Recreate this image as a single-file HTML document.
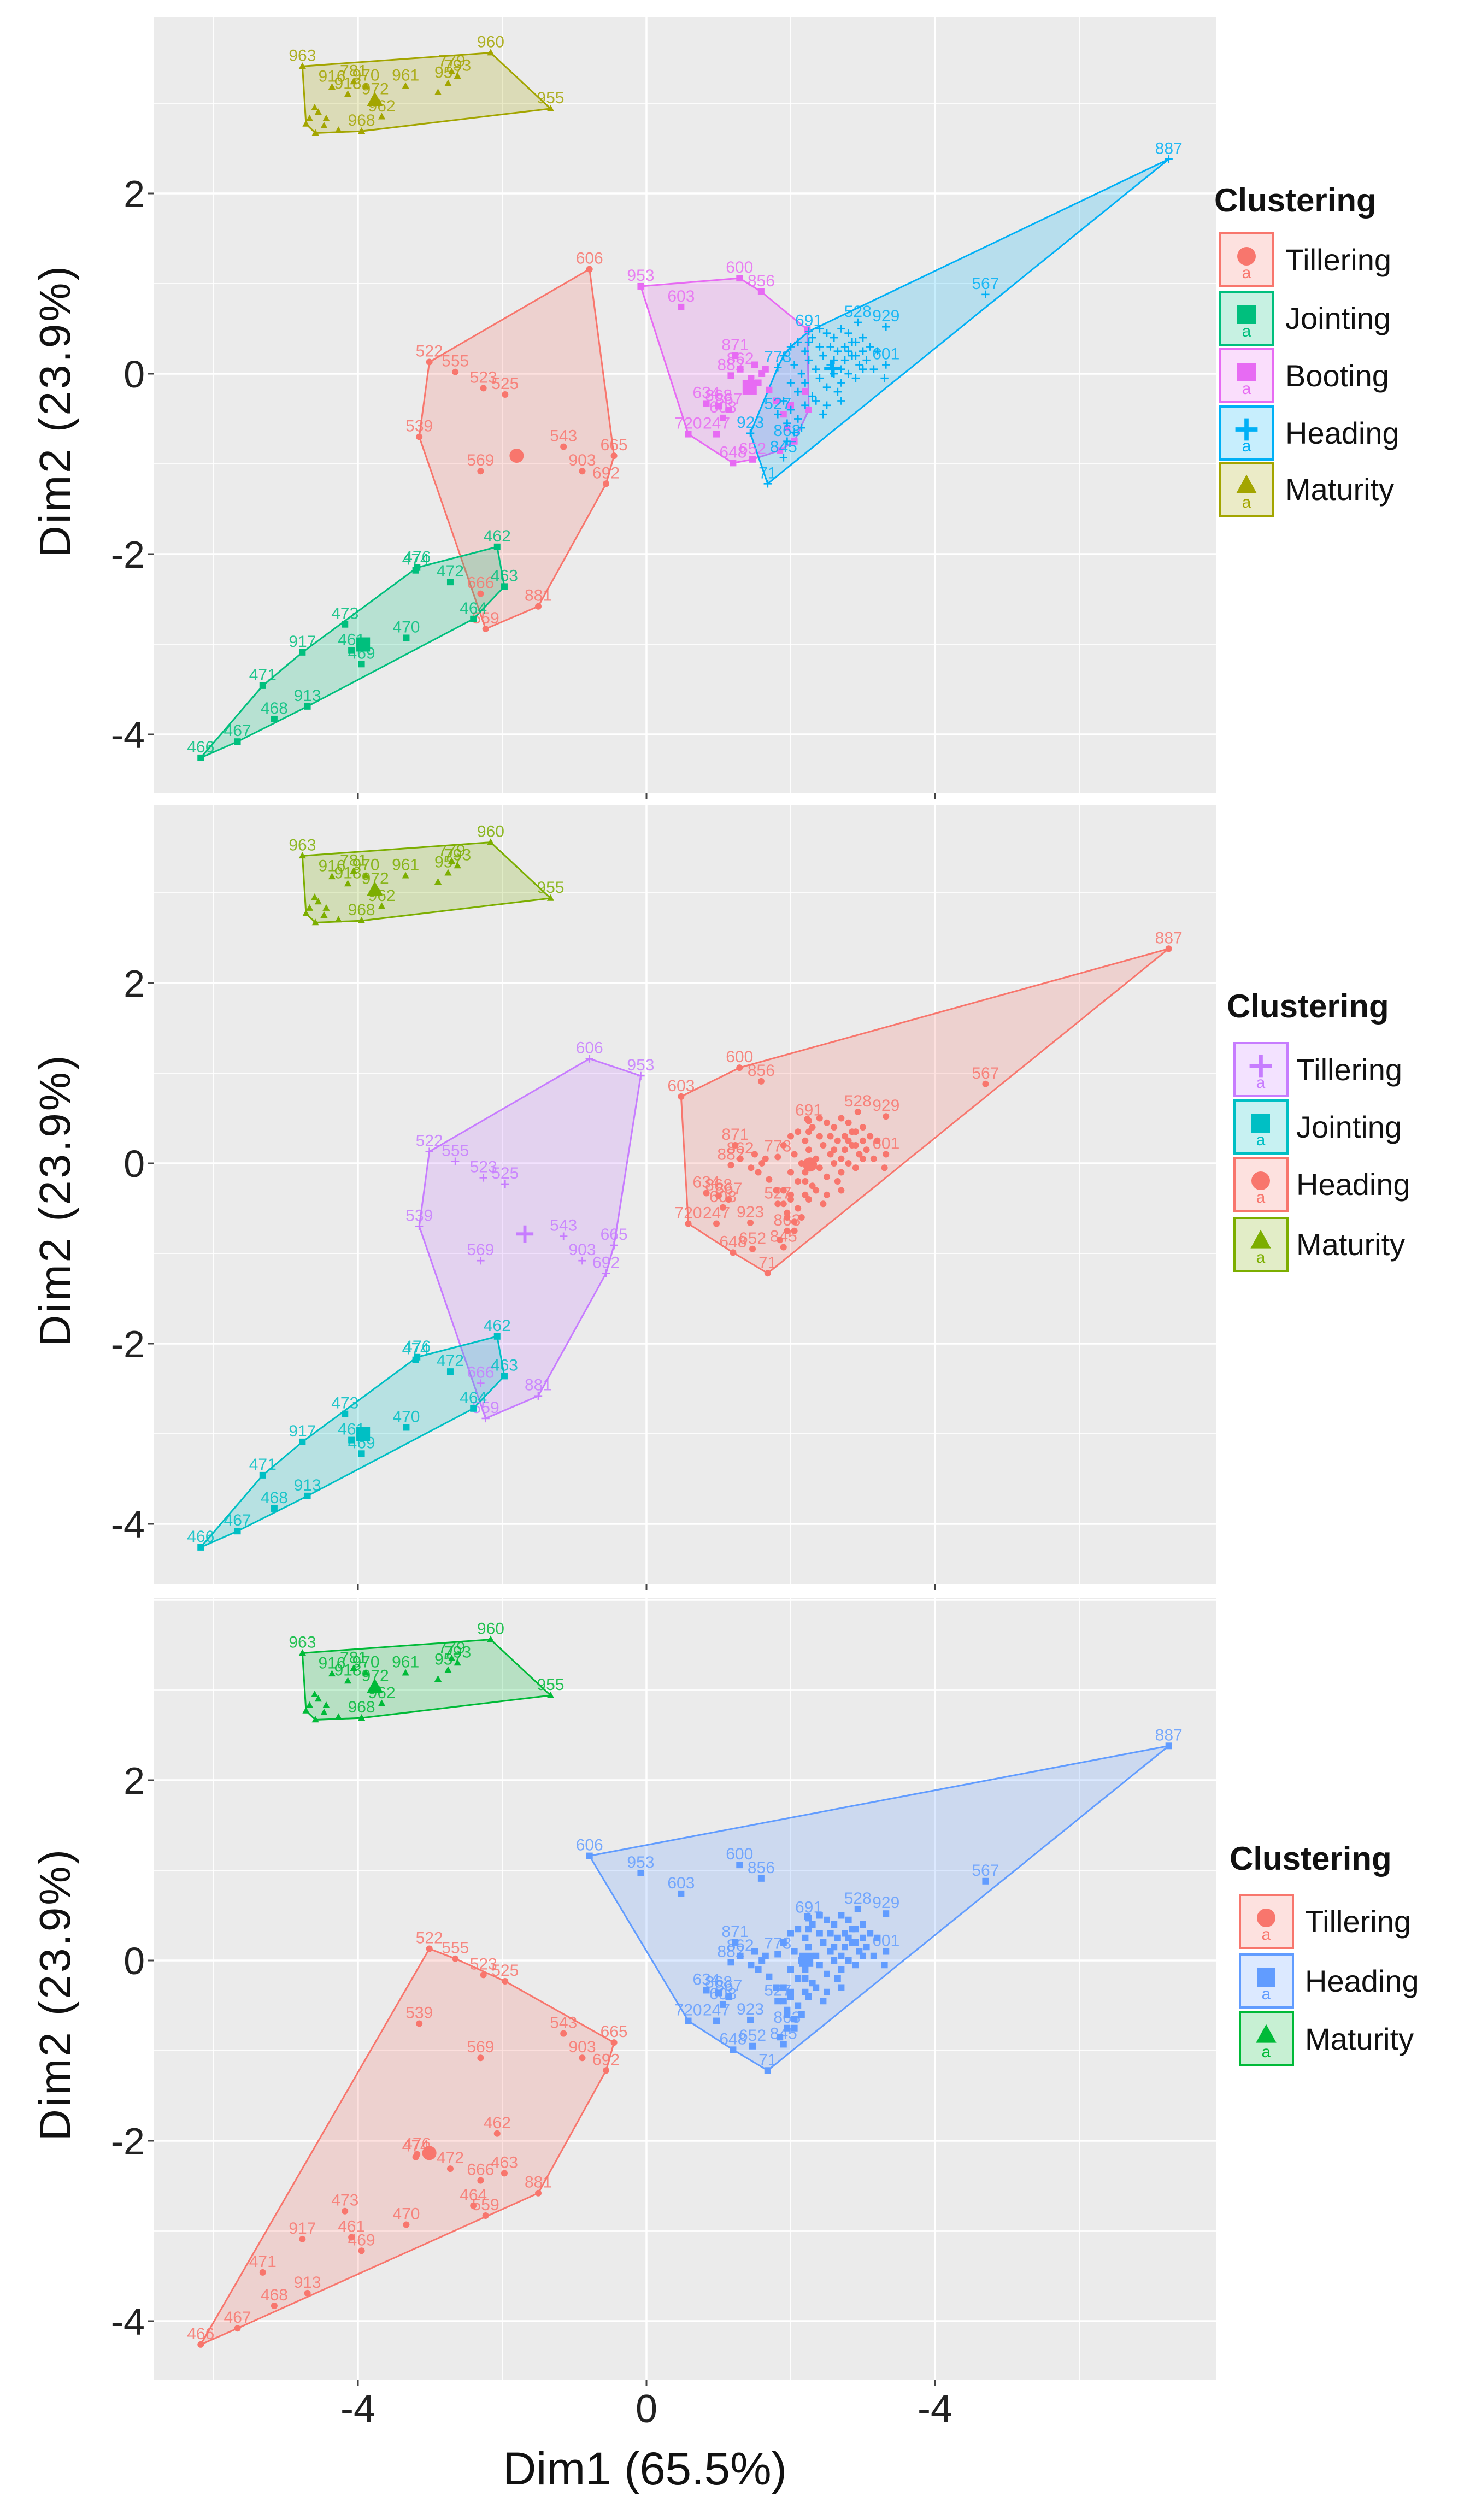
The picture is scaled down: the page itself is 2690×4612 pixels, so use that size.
<!DOCTYPE html>
<html><head><meta charset="utf-8"><title>Cluster plots</title>
<style>
html,body{margin:0;padding:0;background:#fff;}
svg{display:block;font-family:"Liberation Sans",sans-serif;}
</style></head>
<body>
<svg id="chart" width="2690" height="4612" viewBox="0 0 2690 4612" xmlns="http://www.w3.org/2000/svg"></svg>
<script>
// ---- data (Dim1, Dim2, point label, stage in panel 1) ----
const tillLabels = ["606","522","555","523","525","539","569","543","665","903","692","881","559","666"];
const tillX = [-0.79,-3.01,-2.65,-2.26,-1.96,-3.15,-2.30,-1.15,-0.45,-0.89,-0.56,-1.50,-2.23,-2.30];
const tillY = [1.16,0.13,0.02,-0.16,-0.23,-0.70,-1.08,-0.81,-0.91,-1.08,-1.22,-2.58,-2.83,-2.44];

const jointLabels = ["462","474","476","472","463","464","473","470","461","469","917","471","913","468","467","466"];
const jointX = [-2.07,-3.20,-3.18,-2.72,-1.97,-2.40,-4.18,-3.33,-4.09,-3.95,-4.77,-5.32,-4.70,-5.16,-5.67,-6.18];
const jointY = [-1.92,-2.18,-2.15,-2.31,-2.36,-2.72,-2.78,-2.93,-3.07,-3.22,-3.09,-3.46,-3.69,-3.83,-4.08,-4.26];

const bootLabels = ["953","600","856","603","871","862","882","634","868","867","720","247","648","652","608","","","","","","","","","","","","","","",""];
const bootX = [-0.08,1.29,1.59,0.48,1.23,1.30,1.17,0.83,1.00,1.14,0.58,0.97,1.20,1.47,1.06,1.50,1.60,1.55,1.70,1.65,1.45,1.80,2.00,1.95,2.05,1.85,2.20,1.90,2.23,2.25];
const bootY = [0.97,1.06,0.91,0.74,0.20,0.05,-0.02,-0.33,-0.36,-0.40,-0.67,-0.67,-0.99,-0.95,-0.49,0.10,0.00,-0.10,-0.18,0.05,-0.05,-0.30,-0.35,-0.60,-0.75,-0.85,-0.20,-0.45,0.49,-0.40];

const headLabels = ["887","567","929","601","71","923","691","528","863","845","527","773","","","","","","","","","","","","","","","","","","","","","","","","","","","","","","","","","","","","","","","","","","","","","","","","","","","","","","","","","",""];
const headX = [7.24,4.70,3.32,3.32,1.68,1.44,2.25,2.93,1.95,1.90,1.82,1.82,2.0,2.1,2.2,2.3,2.4,2.5,2.6,2.7,2.8,2.9,3.0,3.1,3.2,2.05,2.15,2.25,2.35,2.45,2.55,2.65,2.75,2.85,2.95,3.05,3.15,2.0,2.1,2.2,2.3,2.4,2.5,2.6,2.7,2.8,2.9,3.0,1.9,2.0,2.1,2.2,2.35,2.5,2.65,2.75,2.85,2.6,2.7,2.8,2.9,3.0,1.95,2.05,2.15,1.9,2.4,2.55,2.45,3.3,2.7,2.25];
const headY = [2.38,0.88,0.52,0.10,-1.22,-0.66,0.47,0.57,-0.75,-0.93,-0.45,0.07,0.30,0.35,0.25,0.40,0.30,0.45,0.40,0.50,0.45,0.35,0.40,0.30,0.25,0.10,0.00,0.15,0.05,0.20,0.10,0.25,0.15,0.20,0.10,0.15,0.05,-0.10,-0.20,-0.10,-0.25,-0.05,-0.15,0.00,-0.10,0.00,-0.05,0.05,-0.30,-0.40,-0.50,-0.35,-0.30,-0.35,-0.20,0.30,0.35,0.15,0.05,0.25,0.20,0.25,-0.55,-0.65,-0.60,0.20,0.50,0.30,-0.45,-0.05,-0.30,0.35];

const matLabels = ["963","960","955","968","","","","962","961","","957","793","779","918","972","","","","","916","781","970","",""];
const matX = [-4.77,-2.16,-1.33,-3.95,-4.27,-4.59,-4.47,-3.67,-3.34,-2.89,-2.75,-2.62,-2.70,-4.14,-3.76,-3.71,-4.44,-4.67,-4.72,-4.36,-4.06,-3.89,-4.60,-4.55];
const matY = [3.41,3.56,2.94,2.69,2.70,2.67,2.75,2.85,3.19,3.12,3.22,3.30,3.35,3.10,3.04,3.01,2.83,2.83,2.77,3.18,3.24,3.19,2.95,2.90];

// panel cluster overrides: label -> cluster name in that panel
const panel2Overrides = {"953":"Tillering"};
const panel3Overrides = {"606":"Heading"};

const xTickValues = [-4,0,4];
const xTickLabels = ["-4","0","-4"];
const yTickValues = [2,0,-2,-4];
const yTickLabels = ["2","0","-2","-4"];

// ---- layout ----
const NS = "http://www.w3.org/2000/svg";
const svg = document.getElementById("chart");
const PL = 281, PR = 2225;
const panels = [
  {top:31, bottom:1452, y0:684, legendTitleY:387, legendTitleX:2222, keyX:2233, keyYs:[427,534,639,744,847], labelX:2352,
   clusters:["Tillering","Jointing","Booting","Heading","Maturity"],
   colors:{Tillering:"#F8766D",Jointing:"#00BF7D",Booting:"#E76BF3",Heading:"#00B0F6",Maturity:"#A3A500"},
   shapes:{Tillering:"circle",Jointing:"square",Booting:"square",Heading:"plus",Maturity:"triangle"},
   map:{T:"Tillering",J:"Jointing",B:"Booting",H:"Heading",M:"Maturity"}, over:{}},
  {top:1473, bottom:2899, y0:2129, legendTitleY:1862, legendTitleX:2245, keyX:2259, keyYs:[1909,2014,2119,2229], labelX:2372,
   clusters:["Tillering","Jointing","Heading","Maturity"],
   colors:{Tillering:"#C77CFF",Jointing:"#00BFC4",Heading:"#F8766D",Maturity:"#7CAE00"},
   shapes:{Tillering:"plus",Jointing:"square",Heading:"circle",Maturity:"triangle"},
   map:{T:"Tillering",J:"Jointing",B:"Heading",H:"Heading",M:"Maturity"}, over:panel2Overrides},
  {top:2924, bottom:4355, y0:3588, legendTitleY:3422, legendTitleX:2250, keyX:2269, keyYs:[3468,3577,3683], labelX:2388,
   clusters:["Tillering","Heading","Maturity"],
   colors:{Tillering:"#F8766D",Heading:"#619CFF",Maturity:"#00BA38"},
   shapes:{Tillering:"circle",Heading:"square",Maturity:"triangle"},
   map:{T:"Tillering",J:"Tillering",B:"Heading",H:"Heading",M:"Maturity"}, over:panel3Overrides}
];
const XU = 132, YU = 165, X0 = 1183;
function xScale(v){ return X0 + v*XU; }
function yScale(p, v){ return p.y0 - v*YU; }

function mk(tag, attrs, parent){
  const e = document.createElementNS(NS, tag);
  for (const k in attrs) e.setAttribute(k, attrs[k]);
  (parent||svg).appendChild(e);
  return e;
}
function hull(pts){
  const p = pts.slice().sort((a,b)=>a[0]-b[0]||a[1]-b[1]);
  if (p.length < 3) return p;
  const cr=(o,a,b)=>(a[0]-o[0])*(b[1]-o[1])-(a[1]-o[1])*(b[0]-o[0]);
  const lo=[],up=[];
  for(const q of p){while(lo.length>=2&&cr(lo[lo.length-2],lo[lo.length-1],q)<=0)lo.pop();lo.push(q);}
  for(let i=p.length-1;i>=0;i--){const q=p[i];while(up.length>=2&&cr(up[up.length-2],up[up.length-1],q)<=0)up.pop();up.push(q);}
  up.pop();lo.pop();return lo.concat(up);
}
function marker(parent, shape, cx, cy, r, color){
  let e;
  if (shape==="circle") e = mk("circle",{cx:cx,cy:cy,r:r,fill:color},parent);
  else if (shape==="square") e = mk("rect",{x:cx-r,y:cy-r,width:2*r,height:2*r,fill:color},parent);
  else if (shape==="triangle") e = mk("polygon",{points:`${cx},${cy-r*1.2} ${cx-r*1.1},${cy+r*0.8} ${cx+r*1.1},${cy+r*0.8}`,fill:color},parent);
  else e = mk("path",{d:`M${cx-r*1.2},${cy}H${cx+r*1.2}M${cx},${cy-r*1.2}V${cy+r*1.2}`,stroke:color,"stroke-width":Math.max(2,r*0.45),fill:"none"},parent);
  return e;
}

// all points with stage
const allPts = [];
function addSet(labels, xs, ys, st){ for(let i=0;i<xs.length;i++) allPts.push({lab:labels[i]||"",x:xs[i],y:ys[i],st:st}); }
addSet(tillLabels,tillX,tillY,"T");
addSet(jointLabels,jointX,jointY,"J");
addSet(bootLabels,bootX,bootY,"B");
addSet(headLabels,headX,headY,"H");
addSet(matLabels,matX,matY,"M");

panels.forEach((p, pi) => {
  const g = mk("g",{});
  
  
  const bg = mk("rect",{x:PL,y:p.top,width:PR-PL,height:p.bottom-p.top,fill:"#EBEBEB"},g);
  
  
  // grid
  for (let v=-6; v<=6; v+=2){
    const major = (v%4===0);
    const x = xScale(v);
    if (x<PL||x>PR) continue;
    const l = mk("line",{x1:x,x2:x,y1:p.top,y2:p.bottom,stroke:"#fff","stroke-width":major?3.5:1.8},g);
    
    
  }
  for (let v=-4; v<=4; v+=1){
    const y = yScale(p,v);
    if (y<p.top||y>p.bottom) continue;
    const major = (v%2===0);
    const l = mk("line",{x1:PL,x2:PR,y1:y,y2:y,stroke:"#fff","stroke-width":major?3.5:1.8},g);
    
    
  }
  // y ticks
  yTickValues.forEach((v,i)=>{
    const y = yScale(p,v);
    const t = mk("line",{x1:PL-11,x2:PL,y1:y,y2:y,stroke:"#444","stroke-width":3},g);
    
    
    const tx = mk("text",{x:PL-16,y:y+25,"text-anchor":"end","font-size":70,fill:"#222"},g);
    tx.textContent = yTickLabels[i];
    
    
  });
  xTickValues.forEach((v)=>{
    const x = xScale(v);
    const t = mk("line",{x1:x,x2:x,y1:p.bottom,y2:p.bottom+11,stroke:"#444","stroke-width":3},g);
    
    
  });
  // y title
  const yc = (p.top+p.bottom)/2 + 10;
  const yt = mk("text",{x:0,y:0,transform:`translate(128,${yc}) rotate(-90)`,"text-anchor":"middle","font-size":80,fill:"#111","letter-spacing":"4"},g);
  yt.textContent = "Dim2 (23.9%)";
  
  

  // group points by cluster
  const groups = {};
  p.clusters.forEach(c=>groups[c]=[]);
  allPts.forEach(pt=>{
    const c = (pt.lab && p.over[pt.lab]) ? p.over[pt.lab] : p.map[pt.st];
    groups[c].push(pt);
  });
  // hulls
  p.clusters.forEach(c=>{
    const pts = groups[c].map(q=>[xScale(q.x), yScale(p,q.y)]);
    const h = hull(pts);
    const poly = mk("polygon",{points:h.map(q=>q.join(",")).join(" "),fill:p.colors[c],"fill-opacity":0.22,stroke:p.colors[c],"stroke-width":3,"stroke-linejoin":"round"},g);
    
    
  });
  // points and labels
  p.clusters.forEach(c=>{
    const col = p.colors[c];
    let sx=0, sy=0;
    groups[c].forEach(q=>{
      const cx = xScale(q.x), cy = yScale(p,q.y);
      sx+=q.x; sy+=q.y;
      const m = marker(g, p.shapes[c], cx, cy, 6, col);
      
      
      if (q.lab){
        const t = mk("text",{x:cx,y:cy-10,"text-anchor":"middle","font-size":30,fill:col,"fill-opacity":0.85},g);
        t.textContent = q.lab;
        
        
      }
    });
    const n = groups[c].length;
    const cm = marker(g, p.shapes[c], xScale(sx/n), yScale(p,sy/n), 13, col);
    
    
  });
  // legend
  const lt = mk("text",{x:p.legendTitleX,y:p.legendTitleY,"font-size":60,"font-weight":"bold",fill:"#111"},g);
  lt.textContent = "Clustering";
  
  
  p.clusters.forEach((c,i)=>{
    const ky = p.keyYs[i], col = p.colors[c];
    const lg = mk("g",{},g);
    
    
    mk("rect",{x:p.keyX,y:ky,width:97,height:97,fill:col,"fill-opacity":0.22,stroke:col,"stroke-width":4},lg);
    marker(lg, p.shapes[c], p.keyX+48, ky+42, 17, col);
    const a = mk("text",{x:p.keyX+48,y:ky+82,"text-anchor":"middle","font-size":30,fill:col},lg);
    a.textContent = "a";
    const lb = mk("text",{x:p.labelX,y:ky+68,"font-size":56,fill:"#111"},lg);
    lb.textContent = c;
  });
});

// x axis labels (bottom panel)
const bp = panels[2];
xTickValues.forEach((v,i)=>{
  const t = mk("text",{x:xScale(v),y:4433,"text-anchor":"middle","font-size":72,fill:"#222"});
  t.textContent = xTickLabels[i];
  
  
});
const xt = mk("text",{x:1180,y:4547,"text-anchor":"middle","font-size":84,fill:"#111",textLength:520,lengthAdjust:"spacingAndGlyphs"});
xt.textContent = "Dim1 (65.5%)";


</script>
</body></html>
